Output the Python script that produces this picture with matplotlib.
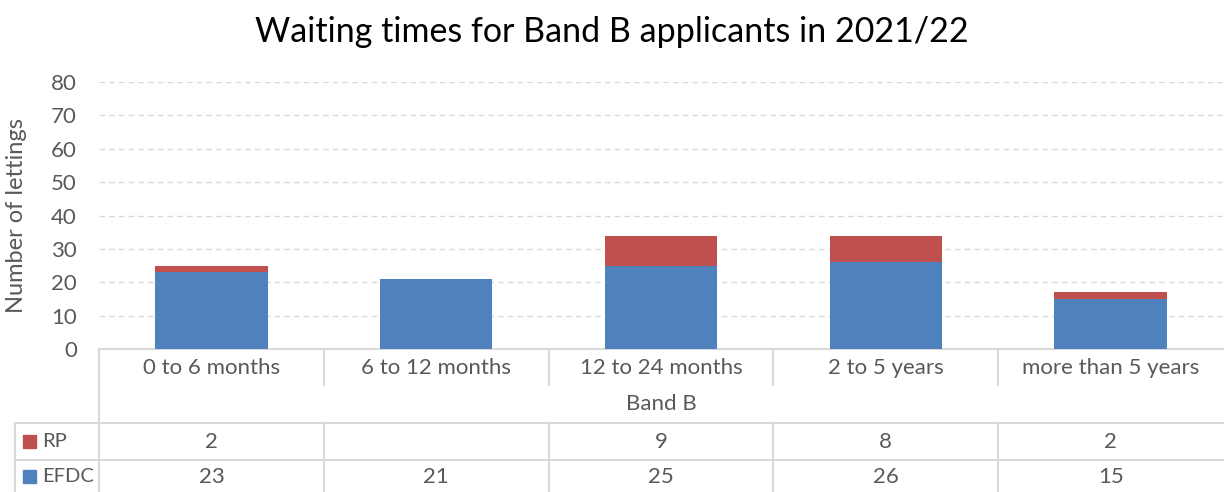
import matplotlib
matplotlib.use("Agg")
import matplotlib.pyplot as plt
from matplotlib.lines import Line2D
from matplotlib.patches import Rectangle

categories = ["0 to 6 months", "6 to 12 months", "12 to 24 months", "2 to 5 years", "more than 5 years"]
group_label = "Band B"
efdc = [23, 21, 25, 26, 15]
rp = [2, 0, 9, 8, 2]
rp_labels = ["2", "", "9", "8", "2"]
series_names = ["RP", "EFDC"]
title = "Waiting times for Band B applicants in 2021/22"
ylabel = "Number of lettings"
yticks = [0, 10, 20, 30, 40, 50, 60, 70, 80]

BLUE = "#4F81BD"
RED = "#C0504D"
GRID = "#D9D9D9"
TXT = "#595959"
FONT = ["Lato", "DejaVu Sans"]
FS = 16

plt.rcParams['font.family'] = FONT

W, H = 1224, 492
fig = plt.figure(figsize=(W / 100, H / 100), dpi=100)

x0, x1 = 99, 1223
y_top, y_bot = 82, 349
ax = fig.add_axes([x0 / W, 1 - y_bot / H, (x1 - x0) / W, (y_bot - y_top) / H])
n = len(categories)
xs = list(range(n))
ax.bar(xs, efdc, width=0.5, color=BLUE, zorder=3)
ax.bar(xs, rp, width=0.5, bottom=efdc, color=RED, zorder=3)
ax.set_xlim(-0.5, n - 0.5)
ax.set_ylim(0, 80)
ax.set_yticks(yticks)
ax.set_yticklabels([str(t) for t in yticks], fontsize=FS, color=TXT)
ax.tick_params(axis='y', length=0, pad=16)
ax.set_xticks([])
for s in ["top", "right", "left"]:
    ax.spines[s].set_visible(False)
ax.spines["bottom"].set_color(GRID)
ax.spines["bottom"].set_linewidth(1.5)
ax.yaxis.grid(True, color=GRID, linestyle=(0, (4, 3)), linewidth=1)
ax.set_axisbelow(True)
ax.set_ylabel(ylabel, fontsize=17, color=TXT, labelpad=17)

fig.text(0.5, 1 - 32 / H, title, ha="center", va="center", fontsize=24.5, color="black")

# Data table in pixel coordinates
tax = fig.add_axes([0, 0, 1, 1 - y_bot / H + 0.0])
tax.set_xlim(0, W)
tax.set_ylim(H, y_bot)
tax.axis("off")

col_w = (x1 - x0) / n
bounds = [x0 + i * col_w for i in range(n + 1)]
r_hdr, r_band, r_rp, r_ef = 349, 385, 423, 460
lw = 1.5

def hline(y, xa, xb):
    tax.add_line(Line2D([xa, xb], [y, y], color=GRID, lw=lw))

def vline(x, ya, yb):
    tax.add_line(Line2D([x, x], [ya, yb], color=GRID, lw=lw))

vline(x0, r_hdr, H)
for b in bounds[1:-1]:
    vline(b, r_hdr, r_band)
    vline(b, r_rp, H)
hline(r_rp, 15, x1)
hline(r_ef, 15, x1)
vline(15, r_rp, H)

for i, c in enumerate(categories):
    cx = (bounds[i] + bounds[i + 1]) / 2
    tax.text(cx, (r_hdr + r_band) / 2 + 1, c, ha="center", va="center", fontsize=FS, color=TXT)
    tax.text(cx, (r_rp + r_ef) / 2, rp_labels[i], ha="center", va="center", fontsize=FS, color=TXT)
    tax.text(cx, (r_ef + H) / 2 + 1, str(efdc[i]), ha="center", va="center", fontsize=FS, color=TXT)
tax.text((x0 + x1) / 2, (r_band + r_rp) / 2, group_label, ha="center", va="center", fontsize=FS, color=TXT)

for name, color, (ya, yb) in [(series_names[0], RED, (r_rp, r_ef)), (series_names[1], BLUE, (r_ef, H))]:
    cy = (ya + yb) / 2
    tax.add_patch(Rectangle((23, cy - 6.5), 13, 13, color=color))
    tax.text(42, cy, name, ha="left", va="center", fontsize=14.5, color=TXT)

fig.savefig("out.png", dpi=100)
